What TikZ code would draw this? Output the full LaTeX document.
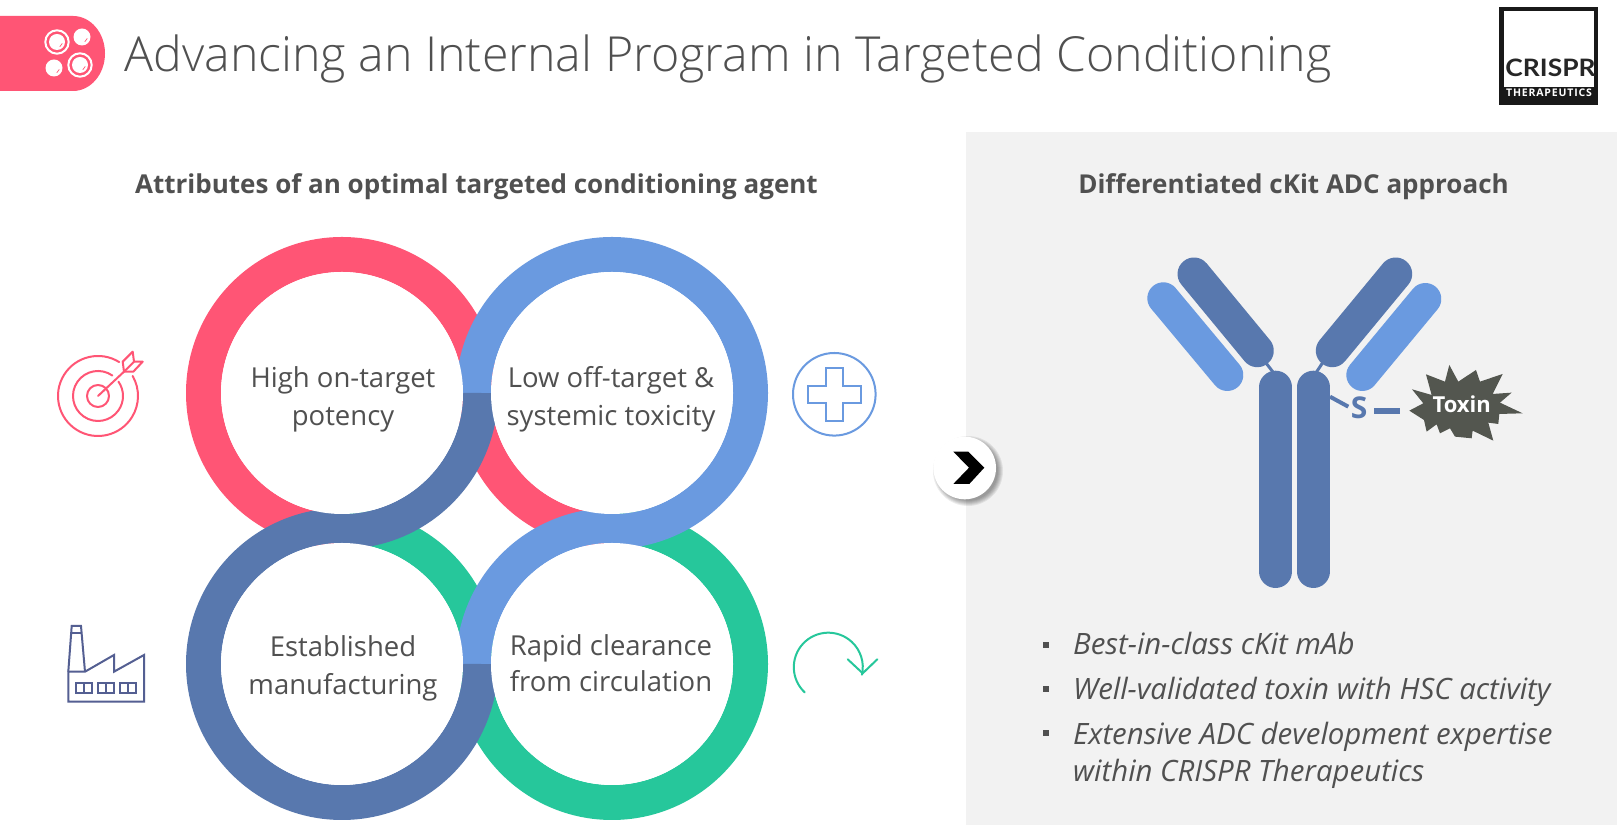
\documentclass[tikz,border=0pt]{standalone}
\usepackage{fontspec}
\setmainfont{Open Sans}
\newfontfamily\titlefont{Open Sans Light}
\newfontfamily\logofont[FakeStretch=1.1]{Lato}
\newfontfamily\bandfont[LetterSpace=8]{Open Sans}
\definecolor{pinkring}{HTML}{FF5575}
\definecolor{lightring}{HTML}{6A9AE0}
\definecolor{darkring}{HTML}{5878AE}
\definecolor{greenring}{HTML}{26C79B}
\definecolor{panelgray}{HTML}{F2F2F2}
\definecolor{textgray}{HTML}{505050}
\definecolor{toxingray}{HTML}{53564F}
\definecolor{factoryblue}{HTML}{545F92}
% one quarter of a ring: centre, start angle, colour
\newcommand{\ringpart}[3]{\draw[line width=35pt,#3] ($(#1)+(#2:138.5)$) arc[start angle=#2,delta angle=90,radius=138.5];}
\usetikzlibrary{calc}
\tikzset{
  circletext/.style={font=\fontsize{27.5}{38}\selectfont,text=textgray,align=center},
  headtext/.style={font=\fontsize{26}{32}\selectfont\bfseries,text=textgray},
  bullettext/.style={font=\fontsize{29.4}{32}\selectfont\itshape,text=textgray,anchor=base west},
  bulletmark/.style={fill=textgray,minimum size=6.5pt,inner sep=0pt},
  armlight/.style={line width=32pt,line cap=round,lightring},
  armdark/.style={line width=33pt,line cap=round,darkring},
  hinge/.style={line width=3pt,darkring},
  icon/.style={line width=2pt,line cap=round,line join=round},
}
\begin{document}
\begin{tikzpicture}[x=1pt,y=1pt]
\useasboundingbox (0,0) rectangle (1617,834);
\fill[white] (0,0) rectangle (1617,834);
\fill[panelgray] (966,9) rectangle (1617,702);
% header tab
\fill[pinkring] (0,818) -- (73,818) arc[x radius=32pt,y radius=37.5pt,start angle=90,end angle=-90] -- (0,743) -- cycle;
\draw[white,line width=2pt] (57,792) circle[radius=11.7pt];
\fill[white] (57,792) circle[radius=8pt];
\fill[white] (82,797) circle[radius=8.5pt];
\fill[white] (54,766) circle[radius=8.5pt];
\draw[white,line width=2pt] (80,769) circle[radius=11.7pt];
\fill[white] (80,769) circle[radius=8pt];
\foreach \cx/\cy in {57/792,82/797,54/766,80/769}
  \draw[pinkring,line width=.7pt] ($(\cx,\cy)+(-60:5.5)$) arc[start angle=-60,end angle=-15,radius=5.5];
\node[font=\fontsize{48.3}{56}\selectfont\titlefont,text=textgray,anchor=base west] (title) at (121,762) {Advancing an Internal Program in Targeted Conditioning};
% logo
\fill[black!90] (1499,729) rectangle (1598,827);
\fill[white] (1503.5,747) rectangle (1593.5,823);
\node[font=\fontsize{24}{24}\selectfont\logofont\bfseries,text=black!85,inner sep=0pt] (crispr) at (1550.5,766.5) {CRISPR};
\node[font=\fontsize{10.5}{11}\selectfont\bandfont\bfseries,text=white,inner sep=0pt] (therapeutics) at (1549,741) {THERAPEUTICS};
% headings
\node[headtext] (attributes) at (476.5,647) {Attributes of an optimal targeted conditioning agent};
\node[headtext] (approach) at (1293.5,647) {Differentiated cKit ADC approach};
% rings, under layer then over layer
\coordinate (tl) at (342,441);
\coordinate (tr) at (612,441);
\coordinate (bl) at (342,170);
\coordinate (br) at (612,170);
\ringpart{tl}{0}{pinkring}
\ringpart{tl}{90}{pinkring}
\ringpart{tl}{180}{pinkring}
\ringpart{tr}{0}{lightring}
\ringpart{tr}{180}{pinkring}
\ringpart{bl}{0}{greenring}
\ringpart{bl}{180}{darkring}
\ringpart{br}{180}{greenring}
\ringpart{br}{270}{greenring}
\ringpart{br}{0}{greenring}
\ringpart{tr}{90}{lightring}
\ringpart{tl}{270}{darkring}
\ringpart{bl}{90}{darkring}
\ringpart{br}{90}{lightring}
\ringpart{bl}{270}{darkring}
\ringpart{tr}{270}{lightring}
\foreach \c in {tl,tr,bl,br}
  \fill[white] (\c) circle[radius=121pt];
\node[circletext] (potency) at (343,435) {High on-target\\potency};
\node[circletext] (toxicity) at (611,435) {Low off-target \&\\systemic toxicity};
\node[circletext] (manufacturing) at (343,166) {Established\\manufacturing};
\node[circletext,font=\fontsize{27.5}{36}\selectfont] (clearance) at (611,171) {Rapid clearance\\from circulation};
% target icon
\begin{scope}[icon,pinkring]
\draw (98,438) circle[radius=11pt];
\draw ($(98,438)+(55:25)$) arc[start angle=55,delta angle=340,radius=25];
\draw ($(98,438)+(58:40)$) arc[start angle=58,delta angle=332,radius=40];
\draw (98,438) -- (124,462.3);
\draw (132.7,482.3) -- (122.7,472.3) -- (124,462.3) -- (133.3,462.3) -- (142.7,472.3) -- (134,472.3) -- cycle;
\draw (124,462.3) -- (134,472.3);
\end{scope}
% factory icon
\begin{scope}[line width=2pt,factoryblue]
\draw (68.3,162.3) -- (68.3,132.3) -- (144,132.3) -- (144,179) -- (114,162.3) -- (114,179) -- (85,162.3) -- cycle;
\draw (68.3,162.3) -- (71.7,208) -- (81,208) -- (85,162.3);
\draw (70.7,200.7) -- (81.7,200.7);
\foreach \wx in {76,98.3,120}{
  \draw (\wx,141.3) rectangle ++(15.7,9.4);
  \draw (\wx+7.85,141.3) -- ++(0,9.4);
}
\end{scope}
% plus icon
\begin{scope}[line width=2pt,lightring]
\draw (834.3,439.7) circle[radius=41.3pt];
\draw (825.6,466) -- ++(17.4,0) -- ++(0,-17.6) -- ++(17.6,0) -- ++(0,-17.4) -- ++(-17.6,0) -- ++(0,-17.6) -- ++(-17.4,0) -- ++(0,17.6) -- ++(-17.6,0) -- ++(0,17.4) -- ++(17.6,0) -- cycle;
\end{scope}
% cycle icon
\begin{scope}[icon,greenring]
\draw ($(828.3,166.8)+(227:34.5)$) arc[start angle=227,end angle=-12.6,radius=34.5];
\draw (847.7,174.7) -- (862.7,160.7) -- (877.3,174.7);
\end{scope}
% button
\foreach \sr in {35,34,33,32,31,30}
  \fill[black,opacity=.07] (968,363) circle[radius=\sr pt];
\fill[white] (964.7,366) circle[radius=31.3pt];
\fill[black] (953.3,382.3) -- (968.3,382.3) -- (984.3,366.3) -- (969.3,350) -- (953.3,350) -- (969,366.3) -- cycle;
% antibody
\draw[hinge] (1265,472.3) -- (1272.7,462.3);
\draw[hinge] (1323.3,472.3) -- (1316.7,462.3);
\draw[armlight] (1163.3,535.7) -- (1227.3,459);
\draw[armdark] (1194,560) -- (1257.3,483.3);
\draw[armdark] (1395.7,560) -- (1332.3,483.3);
\draw[armlight] (1425.3,535) -- (1362.3,459);
\draw[armdark] (1275.8,446.8) -- (1275.8,262.5);
\draw[armdark] (1313.3,446.8) -- (1313.3,262.5);
\node[font=\fontsize{30}{32}\selectfont\bfseries,text=darkring,inner sep=0pt] (sulfur) at (1359,426.3) {S};
\coordinate (stemside) at (1330,437.3);
\coordinate (sulfurside) at (1348.3,427.3);
\draw[line width=4pt,darkring] (stemside) -- (sulfurside);
\fill[darkring] (1374,420) rectangle (1400,426);
\begin{scope}[shift={(1130,594)},x=.3333pt,y=-.3333pt]
\fill[toxingray] (958,375) -- (985,425) -- (1038,390) -- (1050,425) -- (1118,402) -- (1088,462) -- (1145,458) -- (1110,488) -- (1178,520) -- (1108,522) -- (1105,552) -- (1075,548) -- (1090,602) -- (1028,572) -- (1025,595) -- (975,590) -- (960,565) -- (930,580) -- (920,553) -- (890,575) -- (882,540) -- (838,512) -- (880,490) -- (846,448) -- (905,465) -- (888,403) -- (945,425) -- cycle;
\end{scope}
\node[font=\fontsize{22}{24}\selectfont\bfseries,text=white,inner sep=0pt] (toxin) at (1461.7,429.7) {Toxin};
% bullets
\node[bulletmark] (markone) at (1046,189) {};
\node[bulletmark] (marktwo) at (1046,145) {};
\node[bulletmark] (markthree) at (1046,101) {};
\node[bullettext,inner sep=0pt] (mab) at (1073,179) {Best-in-class cKit mAb};
\node[bullettext,inner sep=0pt] (validated) at (1073,134.7) {Well-validated toxin with HSC activity};
\node[bullettext,inner sep=0pt] (extensive) at (1073,89.5) {Extensive ADC development expertise};
\node[bullettext,inner sep=0pt] (within) at (1073,52) {within CRISPR Therapeutics};
\end{tikzpicture}
\end{document}
